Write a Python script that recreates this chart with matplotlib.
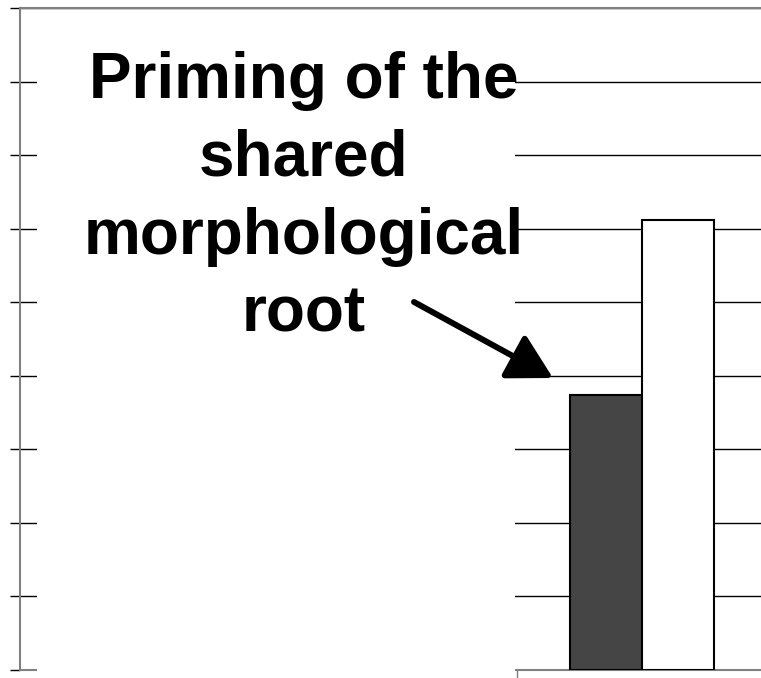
import matplotlib
matplotlib.use("Agg")
import matplotlib.pyplot as plt
from matplotlib.patches import Rectangle, FancyArrowPatch

# values (only the last category is visible)
categories = [0, 1, 2]
related = [None, None, 3.74]     # dark bars
unrelated = [None, None, 6.12]   # white bars
label_text = "Priming of the\nshared\nmorphological\nroot"

W, H = 761, 678
fig = plt.figure(figsize=(W / 100, H / 100), dpi=100)
ax = fig.add_axes([19.5 / W, 8 / H, 1 - 19.5 / W, 1 - 16 / H])

bw = 0.288
xs = [c for c, v in zip(categories, related) if v is not None]
ax.bar([x - bw / 2 for x in xs], [v for v in related if v is not None], width=bw,
       color="#454545", edgecolor="black", linewidth=1.5, zorder=3)
ax.bar([x + bw / 2 for x in xs], [v for v in unrelated if v is not None], width=bw,
       color="white", edgecolor="black", linewidth=1.5, zorder=3)

ax.set_xlim(2 - (642 - 19.5) / 250, 2 + (761 - 642) / 250)
ax.set_ylim(0, 9)
ax.set_yticks(range(10))
ax.set_yticklabels([])
ax.set_xticks([0.5, 1.5])
ax.set_xticklabels([])
ax.tick_params(axis="y", direction="out", length=7, width=1, color="black")
ax.tick_params(axis="x", direction="out", length=6, width=1, color="#808080")
ax.yaxis.grid(True, color="black", linewidth=1)
ax.set_axisbelow(True)
for s in ["left", "bottom", "top"]:
    ax.spines[s].set_color("#808080")
    ax.spines[s].set_linewidth(1.5)
ax.spines["right"].set_visible(False)

# white text box that hides the gridlines on the left
fig.add_artist(Rectangle((37 / W, 0), (515 - 37) / W, (H - 16) / H,
                         transform=fig.transFigure, facecolor="white",
                         edgecolor="none", zorder=5))

fig.text(304 / W, 1 - 51 / H, label_text, ha="center", va="top",
         multialignment="center", fontsize=46, fontweight="bold",
         family=["Liberation Sans", "DejaVu Sans"], linespacing=1.38, zorder=6)

fig.add_artist(FancyArrowPatch(
    (414 / W, 1 - 302 / H), (553 / W, 1 - 378 / H), transform=fig.transFigure,
    arrowstyle="-|>,head_length=1.35,head_width=0.75", mutation_scale=20,
    linewidth=4.3, color="black", shrinkA=0, shrinkB=0, zorder=7))

fig.savefig("out.png", dpi=100)
